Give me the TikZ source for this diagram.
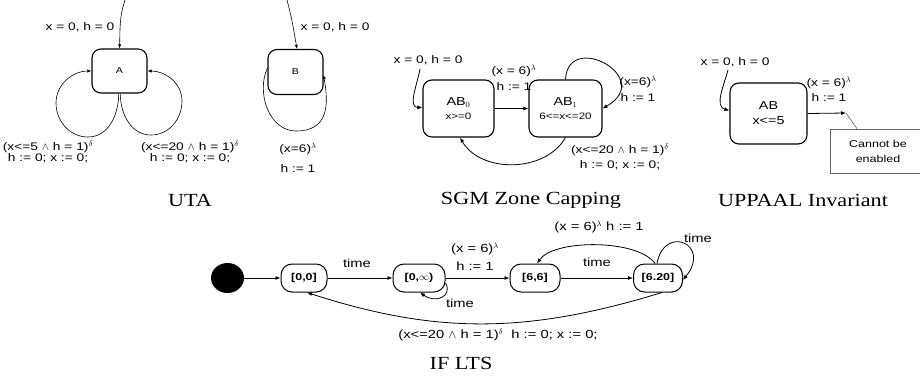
\documentclass[tikz,border=0pt]{standalone}
\usepackage{fontspec}
\usetikzlibrary{arrows.meta,shapes.geometric}
\setmainfont[FakeStretch=1.25]{Liberation Sans}
\newfontfamily\ttlfont[FakeStretch=1.2]{Liberation Serif}
\tikzset{
  st/.style={draw, line width=1.1pt, rounded corners=9pt, inner sep=0pt, align=center},
  ltsnode/.style={draw, line width=1pt, rounded corners=11pt, inner sep=0pt, minimum height=28pt,
    font=\fontsize{10}{12}\selectfont\bfseries},
  lbl/.style={font=\fontsize{11}{11.5}\selectfont, inner sep=0pt, align=center},
  lblb/.style={font=\fontsize{11.8}{12}\selectfont, inner sep=0pt, align=center},
  arr/.style={-{Latex[length=5pt,width=4pt]}, line width=0.8pt},
  thinarr/.style={-{Latex[length=4pt,width=3.2pt]}, line width=0.6pt},
  ttl/.style={font=\ttlfont\fontsize{18.5}{20}\selectfont, inner sep=0pt},
}
\begin{document}
\begin{tikzpicture}[x=1pt,y=1pt]
\useasboundingbox (0,0) rectangle (920,384);

% ---------------- UTA ----------------
\node[st, minimum width=55pt, minimum height=44pt, font=\fontsize{8.5}{9}\selectfont] (A) at (119.5,313) {A};
\coordinate (iA) at (125,384);
\draw[thinarr] (iA) to[out=-108,in=88] (A.north);
\node[lbl] (lA0) at (80,357) {x = 0, h = 0};
\draw[thinarr] ([xshift=-0.8pt]A.south) to[out=-90,in=0] (88,247) to[out=180,in=-90] (56,281) to[out=90,in=180] (A.west);
\draw[thinarr] ([xshift=0.8pt]A.south) to[out=-90,in=180] (151,249) to[out=0,in=-90] (182,283) to[out=90,in=0] (A.east);
\node[lbl] (lA1) at (48,232) {(x<=5 $\wedge$ h = 1)$^{\delta}$\\h := 0; x := 0;};
\node[lbl] (lA2) at (190,232) {(x<=20 $\wedge$ h = 1)$^{\delta}$\\h := 0; x := 0;};

\node[st, minimum width=55pt, minimum height=45pt, font=\fontsize{8.5}{9}\selectfont] (B) at (295.5,312) {B};
\coordinate (iB) at (287,384);
\draw[thinarr] (iB) to[out=-75,in=100] ([xshift=1.5pt]B.north);
\node[lbl] (lB0) at (335,357) {x = 0, h = 0};
\draw[thinarr] ([yshift=4pt]B.west) to[out=-115,in=180] (296,253) to[out=0,in=-80,looseness=1.3] ([yshift=-3pt]B.east);
\node[lbl] (lB1) at (298,226.5) {(x=6)$^{\lambda}$\\[8pt]h := 1};

\node[ttl] (tA) at (190,184) {UTA};

% ---------------- SGM ----------------
\node[st, minimum width=71pt, minimum height=57pt, font=\fontsize{11.5}{13}\selectfont] (AB0) at (458.5,275.5)
  {AB$_0$\\[1pt]{\fontsize{9.3}{10}\selectfont x>=0}};
\node[st, minimum width=73pt, minimum height=57pt, font=\fontsize{11.5}{13}\selectfont] (AB1) at (565.5,275.5)
  {AB$_1$\\[1pt]{\fontsize{9.3}{10}\selectfont 6<=x<=20}};
\coordinate (iS) at (420,315);
\draw[arr] (iS) to[out=-100,in=180] ([yshift=1pt]AB0.west);
\node[lbl] (lS0) at (428,324) {x = 0, h = 0};
\draw[arr] (AB0) -- (AB1);
\node[lbl] (lS1) at (514,306.5) {(x = 6)$^{\lambda}$\\[5pt]h := 1};
\draw[arr] (AB1.north) .. controls (568,354) and (656,306) .. (AB1.east);
\node[lbl] (lS2) at (638,295.5) {(x=6)$^{\lambda}$\\[5pt]h := 1};
\draw[arr] (AB1.south) to[out=-120,in=-60] ([xshift=1.5pt]AB0.south);
\node[lbl] (lS3) at (620,227) {(x<=20 $\wedge$ h = 1)$^{\delta}$\\[4pt]h := 0; x := 0;};
\node[ttl] (tS) at (531,184) {SGM Zone Capping};

% ---------------- UPPAAL ----------------
\node[st, minimum width=77pt, minimum height=61pt, font=\fontsize{11.5}{13}\selectfont] (AB) at (768.5,270.5) {AB\\[2pt]x<=5};
\coordinate (iU) at (728,314);
\draw[arr] (iU) to[out=-105,in=165] ([yshift=3pt]AB.west);
\node[lbl] (lU0) at (735,322) {x = 0, h = 0};
\coordinate (ce) at (846,271);
\draw[arr] (AB.east) -- (ce);
\node[lbl] (lU1) at (829,295) {(x = 6)$^{\lambda}$\\[4pt]h := 1};
\node[draw=black!60, line width=0.6pt, minimum width=96pt, minimum height=44pt, inner sep=0pt, align=center,
  font=\fontsize{10}{12}\selectfont] (cb) at (878,233) {Cannot be\\[3pt]enabled};
\draw[black!70, line width=0.5pt] (ce) -- ([xshift=-21pt]cb.north);
\node[ttl] (tU) at (803,184) {UPPAAL Invariant};

% ---------------- IF LTS ----------------
\node[ellipse, fill=black, minimum width=33pt, minimum height=30pt, inner sep=0pt] (s0) at (227.5,106) {};
\node[ltsnode, minimum width=46pt] (s00) at (304,106) {[0,0]};
\node[ltsnode, minimum width=52pt] (s0i) at (419,106) {[0,$\infty$)};
\node[ltsnode, minimum width=50pt] (s66) at (535,106) {[6,6]};
\node[ltsnode, minimum width=49pt] (s620) at (658,106) {[6.20]};
\draw[arr] (s0) -- (s00);
\draw[arr] (s00) -- (s0i);
\node[lblb] (t1) at (357,121) {time};
\draw[arr] ([yshift=-5pt]s0i.east) .. controls (453,88) and (436,80) .. ([xshift=1pt]s0i.south);
\node[lblb] (t2) at (460,81) {time};
\draw[arr] (s0i) -- (s66);
\node[lblb] (l66) at (475,127) {(x = 6)$^{\lambda}$\\[6pt]h := 1};
\draw[arr] (s66) -- (s620);
\node[lblb] (t3) at (597,122) {time};
\draw[arr] ([xshift=-3pt]s620.north) to[out=125,in=55,looseness=0.65] ([xshift=2pt]s66.north);
\node[lblb] (l62) at (599,157) {(x = 6)$^{\lambda}$ h := 1};
\draw[arr] ([xshift=-1pt]s620.north) .. controls (664,160) and (712,140) .. ([yshift=-2pt]s620.east);
\node[lblb] (t4) at (698,146) {time};
\draw[arr] ([xshift=4pt]s620.south) to[out=-163,in=-18] ([xshift=3pt]s00.south);
\node[lblb] (lb) at (498,49) {(x<=20 $\wedge$ h = 1)$^{\delta}$\ \ h := 0; x := 0;};
\node[ttl] (tL) at (461,21) {IF LTS};
\end{tikzpicture}
\end{document}
